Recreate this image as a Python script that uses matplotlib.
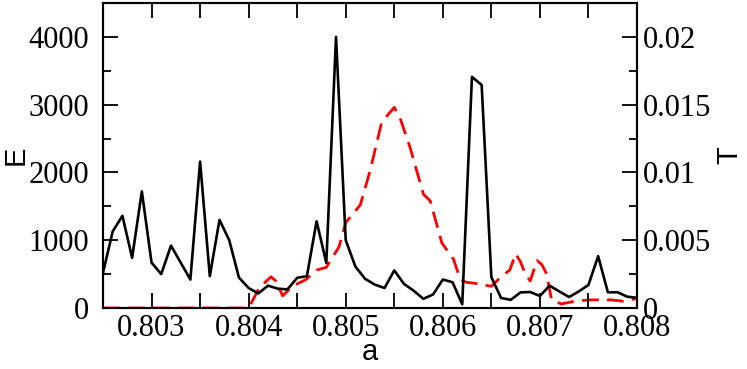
import numpy as np
import matplotlib
matplotlib.use("Agg")
import matplotlib.pyplot as plt
from matplotlib.ticker import MultipleLocator

# E(a), paso 0.0001 desde 0.8025 hasta 0.8080
a_E = np.round(np.arange(0.8025, 0.80805, 0.0001), 4)
E = [520, 1130, 1360, 740, 1720, 670, 500, 920, 670, 420,
     2160, 470, 1300, 1000, 450, 295, 215, 330, 285, 275,
     445, 470, 1280, 665, 4000, 1000, 610, 430, 345, 295,
     555, 355, 255, 135, 200, 420, 380, 55, 3410, 3290,
     455, 148, 120, 230, 236, 177, 330, 244, 162, 244,
     340, 765, 232, 232, 167, 150]

a_T = [0.8025, 0.8030, 0.8040, 0.80411, 0.80423, 0.80428, 0.80435, 0.80445,
       0.80459, 0.8047, 0.8048, 0.80493, 0.8050, 0.80515, 0.80525, 0.80537,
       0.80544, 0.8055, 0.80556, 0.80566, 0.8058, 0.80587, 0.80599, 0.80611,
       0.80618, 0.80624, 0.80635, 0.8065, 0.8066, 0.80669, 0.80675, 0.8068,
       0.80685, 0.8069, 0.80697, 0.80702, 0.80707, 0.80712, 0.80722, 0.80736,
       0.80752, 0.80773, 0.80786, 0.8080]
T = [0.0, 0.0, 0.0, 0.0015, 0.0023, 0.0020, 0.0009, 0.0016,
     0.0021, 0.0028, 0.0030, 0.0045, 0.0063, 0.0076, 0.0101, 0.0137,
     0.0143, 0.0148, 0.0140, 0.0119, 0.0084, 0.0079, 0.0048, 0.0036,
     0.0021, 0.0019, 0.0018, 0.0016, 0.0023, 0.0028, 0.0040, 0.0034,
     0.0025, 0.0020, 0.0035, 0.0032, 0.0025, 0.0006, 0.0003, 0.0005,
     0.0006, 0.0006, 0.0005, 0.0007]

xticks = [0.803, 0.804, 0.805, 0.806, 0.807, 0.808]
xticklabels = ["0.803", "0.804", "0.805", "0.806", "0.807", "0.808"]

fig = plt.figure(figsize=(7.47, 3.69), dpi=100)
ax = fig.add_axes([103 / 747, 61 / 369, 534 / 747, 305 / 369])
ax2 = ax.twinx()

ax2.plot(a_T, T, color="#ff0000", lw=2.0, dashes=(6, 3))
ax.plot(a_E, E, color="black", lw=1.9)
ax.set_zorder(ax2.get_zorder() + 1)
ax.patch.set_visible(False)

ax.set_xlim(0.8025, 0.808)
ax.set_ylim(0, 4500)
ax2.set_ylim(0, 0.0225)

ax.set_xticks(xticks)
ax.set_xticklabels(xticklabels)
ax.xaxis.set_minor_locator(MultipleLocator(0.0005))
ax.yaxis.set_major_locator(MultipleLocator(1000))
ax.yaxis.set_minor_locator(MultipleLocator(500))
ax2.set_yticks([0, 0.005, 0.01, 0.015, 0.02])
ax2.set_yticklabels(["0", "0.005", "0.01", "0.015", "0.02"])
ax2.yaxis.set_minor_locator(MultipleLocator(0.0025))

for a in (ax, ax2):
    for lab in a.get_xticklabels() + a.get_yticklabels():
        lab.set_fontfamily("Liberation Serif")
        lab.set_fontsize(22)
    for s in a.spines.values():
        s.set_linewidth(1.5)

ax.tick_params(axis="x", which="both", direction="in", top=True,
               length=11, width=1.3, pad=4)
ax.tick_params(axis="y", which="major", direction="in", length=11, width=1.3, pad=10)
ax.tick_params(axis="y", which="minor", direction="in", length=6, width=1.3)
ax2.tick_params(axis="y", which="major", direction="in", length=11, width=1.3, pad=4)
ax2.tick_params(axis="y", which="minor", direction="in", length=6, width=1.3)

lab_font = dict(family="Liberation Sans", size=21)
ax.set_xlabel("a", fontdict=lab_font, labelpad=-3)
ax.set_ylabel("E", fontdict=lab_font)
ax.yaxis.set_label_coords(-0.138, 0.5)
ax2.set_ylabel("T", fontdict=lab_font, rotation=90)
ax2.yaxis.set_label_coords(1.146, 0.5)

fig.savefig("out.png", dpi=100)
